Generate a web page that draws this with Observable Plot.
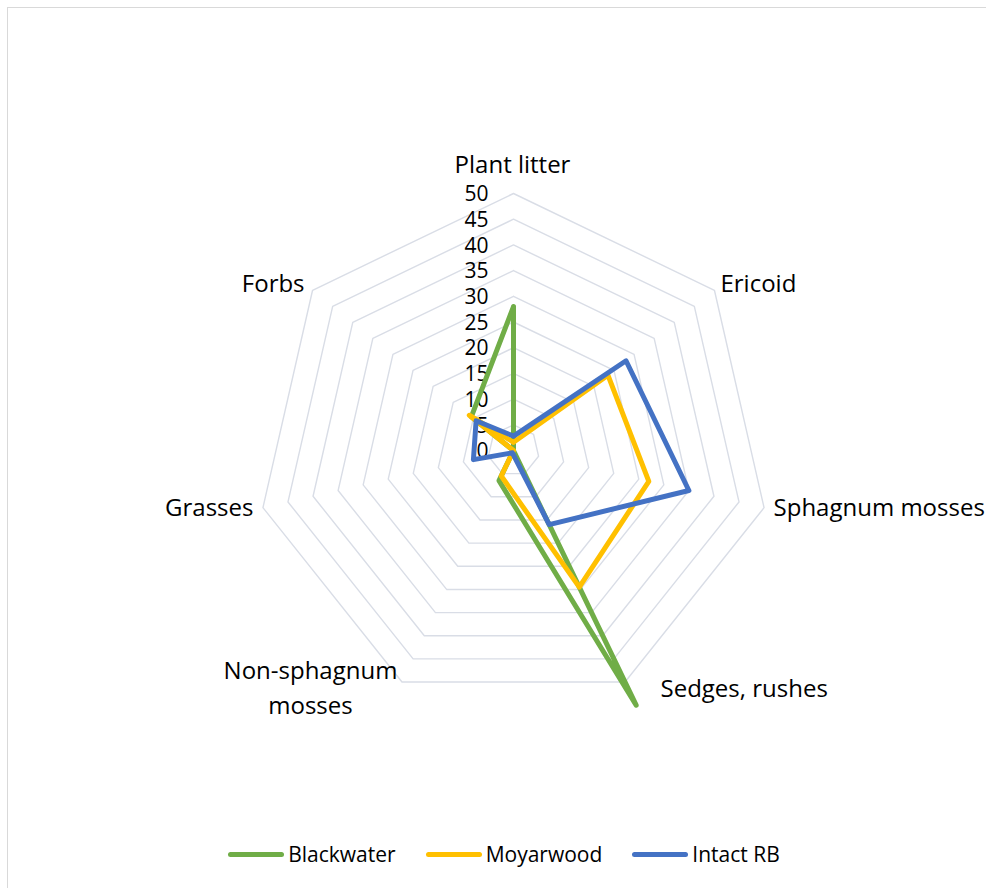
<!DOCTYPE html>
<html>
<head>
<meta charset="utf-8">
<script src="https://cdn.jsdelivr.net/npm/d3@7"></script>
<script src="https://cdn.jsdelivr.net/npm/@observablehq/plot@0.6"></script>
<style>
html, body { margin: 0; padding: 0; background: #fff; overflow: hidden; width: 986px; height: 888px; }
#frame { position: absolute; left: 7px; top: 7px; width: 1000px; height: 900px; border-left: 1px solid #d9d9d9; border-top: 1px solid #d9d9d9; }
#chart { position: absolute; left: 0; top: 0; }
#legend { position: absolute; left: 0; top: 829px; width: 986px; height: 50px; box-sizing: border-box; padding-left: 22px;
  display: flex; justify-content: center; align-items: center; font-family: "Open Sans", sans-serif; font-size: 21px; color: #000; }
.item { display: flex; align-items: center; margin: 0 15px; }
.swatch { width: 56px; height: 5px; border-radius: 3px; margin-right: 4px; }
</style>
</head>
<body>
<div id="frame"></div>
<div id="chart"></div>
<div id="legend"></div>
<script>
// ---- data ----
const categories = ["Plant litter", "Ericoid", "Sphagnum mosses", "Sedges, rushes", "Non-sphagnum mosses", "Grasses", "Forbs"];
const categoryLabels = ["Plant litter", "Ericoid", "Sphagnum mosses", "Sedges, rushes", "Non-sphagnum\nmosses", "Grasses", "Forbs"];
const seriesNames = ["Blackwater", "Moyarwood", "Intact RB"];
const blackwater = [28, 0, 0, 55, 6.5, 0, 10.5];
const moyarwood = [1.6, 23.5, 27, 29.5, 5.5, 0, 11];
const intactRB = [2.8, 28, 35, 16, 0.5, 8, 9.3];
const tickValues = [0, 5, 10, 15, 20, 25, 30, 35, 40, 45, 50];
const tickLabels = ["0", "5", "10", "15", "20", "25", "30", "35", "40", "45", "50"];

// ---- layout / style ----
const colors = ["#70ad47", "#ffc000", "#4472c4"];
const W = 986, H = 830;
const cx = 513, cy = 450, R = 257, maxV = 50;
const k = R / maxV; // px per unit
const n = categories.length;
const ang = i => (2 * Math.PI * i) / n;
const px = (v, i) => v * Math.sin(ang(i));
const py = (v, i) => v * Math.cos(ang(i));
// label placement (pixel nudges from outer vertex) and anchors
const labelLayout = [
  {anchor: "middle", dx: -1, dy: -32},
  {anchor: "start", dx: 6, dy: -9},
  {anchor: "start", dx: 9.5, dy: -3},
  {anchor: "start", dx: 35.5, dy: 3.5},
  {anchor: "middle", dx: -91.5, dy: 3},
  {anchor: "end", dx: -9.5, dy: -3},
  {anchor: "end", dx: -8, dy: -9}
];

const seriesValues = [blackwater, moyarwood, intactRB];
const rows = [];
seriesValues.forEach((vals, s) => {
  for (let i = 0; i <= n; i++) {
    const j = i % n;
    rows.push({series: seriesNames[s], x: px(vals[j], j), y: py(vals[j], j)});
  }
});
const gridRows = [];
tickValues.filter(t => t > 0).forEach(t => {
  for (let i = 0; i <= n; i++) {
    const j = i % n;
    gridRows.push({level: t, x: px(t, j), y: py(t, j)});
  }
});

const labelMarks = categoryLabels.map((lab, i) => {
  const L = labelLayout[i];
  return Plot.text([{lab, x: px(maxV, i) + L.dx / k, y: py(maxV, i) - L.dy / k}], {
    x: "x", y: "y", text: "lab", textAnchor: L.anchor, lineAnchor: "middle",
    lineHeight: 1.45, fontSize: 24, fontFamily: "Open Sans", fill: "#000"
  });
});

const chart = Plot.plot({
  width: W, height: H,
  margin: 0,
  style: {background: "transparent", fontFamily: "Open Sans"},
  x: {domain: [-cx / k, (W - cx) / k], range: [0, W], axis: null},
  y: {domain: [-(H - cy) / k, cy / k], range: [H, 0], axis: null},
  color: {domain: seriesNames, range: colors},
  marks: [
    Plot.line(gridRows, {x: "x", y: "y", z: "level", stroke: "#d9dde6", strokeWidth: 1.4}),
    Plot.text(tickValues, {x: () => 0, y: d => d, text: (d, i) => tickLabels[i], textAnchor: "end", dx: -25, dy: 1,
      fontSize: 21, fontFamily: "Open Sans", fill: "#000"}),
    Plot.line(rows, {x: "x", y: "y", z: "series", stroke: "series", strokeWidth: 5,
      strokeLinejoin: "round", strokeLinecap: "round"}),
    ...labelMarks
  ]
});
document.getElementById("chart").appendChild(chart);

// legend
const legend = document.getElementById("legend");
seriesNames.forEach((name, i) => {
  const item = document.createElement("div");
  item.className = "item";
  const sw = document.createElement("span");
  sw.className = "swatch";
  sw.style.background = colors[i];
  const tx = document.createElement("span");
  tx.textContent = name;
  item.appendChild(sw);
  item.appendChild(tx);
  legend.appendChild(item);
});
</script>
</body>
</html>
